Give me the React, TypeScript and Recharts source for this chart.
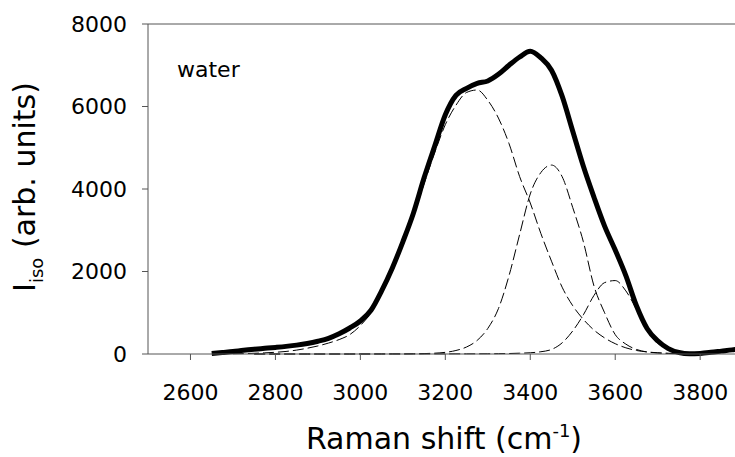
import React from 'react';
import { LineChart, Line, XAxis, YAxis, ReferenceLine, Label } from 'recharts';

const shifts = [2650, 2675, 2700, 2725, 2750, 2775, 2800, 2825, 2850, 2875, 2900, 2925, 2950, 2975, 3000, 3025, 3050, 3075, 3100, 3125, 3150, 3175, 3200, 3225, 3250, 3275, 3300, 3325, 3350, 3375, 3400, 3425, 3450, 3475, 3500, 3525, 3550, 3575, 3600, 3625, 3650, 3675, 3700, 3725, 3750, 3775, 3800, 3825, 3850, 3875, 3900];

const measured = [10, 35, 60, 90, 115, 137, 160, 185, 215, 255, 310, 380, 490, 630, 800, 1060, 1530, 2080, 2720, 3420, 4270, 5040, 5800, 6270, 6440, 6560, 6620, 6780, 7000, 7200, 7340, 7180, 6880, 6250, 5400, 4550, 3800, 3100, 2520, 1900, 1170, 620, 320, 130, 35, 5, 15, 40, 70, 100, 125];

const band1 = [null, null, 5, 10, 18, 28, 42, 62, 95, 140, 195, 265, 350, 470, 690, 1000, 1460, 2000, 2640, 3340, 4130, 4880, 5560, 6030, 6340, 6400, 6150, 5720, 5100, 4300, 3660, 2920, 2250, 1620, 1170, 840, 580, 390, 250, 150, 85, 50, 30, 18, 10, 6, 4, null, null, null, null];

const band2 = [null, null, null, null, 0, 0, 0, 0, 0, 0, 0, 0, 0, 0, 1, 1, 1, 2, 2, 5, 10, 20, 40, 85, 170, 330, 620, 1100, 1900, 2900, 3880, 4400, 4580, 4300, 3550, 2720, 1650, 1000, 470, 240, 110, 50, 25, 12, 6, 3, 2, null, null, null, null];

const band3 = [null, null, null, null, 0, 0, 0, 0, 0, 0, 0, 0, 0, 0, 0, 0, 1, 1, 1, 2, 2, 3, 3, 4, 4, 5, 6, 8, 12, 20, 30, 55, 110, 270, 560, 950, 1420, 1730, 1780, 1530, 1080, 560, 260, 100, 35, 15, 8, null, null, null, null];

const xTicks = [2600, 2800, 3000, 3200, 3400, 3600, 3800];
const yTicks = [0, 2000, 4000, 6000, 8000];

const table = shifts.map((s, i) => ({
  shift: s,
  measured: measured[i],
  band1: band1[i],
  band2: band2[i],
  band3: band3[i],
}));

const FONT = 'DejaVu Sans';
const AXIS = '#555';

const YLabel = () => (
  <text
    x={35}
    y={187}
    transform="rotate(-90, 35, 187)"
    textAnchor="middle"
    fontSize={30}
    fontFamily={FONT}
    fill="#000"
  >
    I<tspan fontSize={18} dy={8}>iso</tspan>
    <tspan dy={-8}> (arb. units)</tspan>
  </text>
);

const XLabel = () => (
  <g>
    <text x={444} y={449} textAnchor="middle" fontSize={30} fontFamily={FONT} fill="#000">
      Raman shift (cm<tspan fontSize={18} dy={-12}>-1</tspan>
      <tspan dy={12}>)</tspan>
    </text>
    <text x={177} y={77} fontSize={22} fontFamily={FONT} fill="#000">water</text>
  </g>
);

export default function App() {
  return (
    <div style={{ position: 'absolute', left: 0, top: 0, background: '#fff' }}>
      <LineChart
        width={735}
        height={457}
        data={table}
        margin={{ top: 24, right: 0, bottom: 0, left: 0 }}
        style={{ fontFamily: FONT }}
      >
        <XAxis
          dataKey="shift"
          type="number"
          domain={[2500, 3882]}
          allowDataOverflow
          ticks={xTicks}
          height={103}
          tickSize={6}
          tickMargin={24}
          axisLine={{ stroke: AXIS }}
          tickLine={{ stroke: AXIS }}
          tick={{ fontSize: 22, fill: '#000', fontFamily: FONT }}
        >
          <Label content={XLabel} />
        </XAxis>
        <YAxis
          type="number"
          domain={[0, 8000]}
          ticks={yTicks}
          width={148}
          tickSize={6}
          tickMargin={15}
          axisLine={{ stroke: AXIS }}
          tickLine={{ stroke: AXIS }}
          tick={{ fontSize: 22, fill: '#000', fontFamily: FONT }}
        >
          <Label content={YLabel} />
        </YAxis>
        <ReferenceLine y={8000} stroke={AXIS} />
        <Line dataKey="band1" type="monotone" stroke="#000" strokeWidth={1} strokeDasharray="11 4" dot={false} isAnimationActive={false} />
        <Line dataKey="band2" type="monotone" stroke="#000" strokeWidth={1} strokeDasharray="11 4" dot={false} isAnimationActive={false} />
        <Line dataKey="band3" type="monotone" stroke="#000" strokeWidth={1} strokeDasharray="11 4" dot={false} isAnimationActive={false} />
        <Line dataKey="measured" type="monotone" stroke="#000" strokeWidth={5} dot={false} isAnimationActive={false} />
      </LineChart>
    </div>
  );
}
